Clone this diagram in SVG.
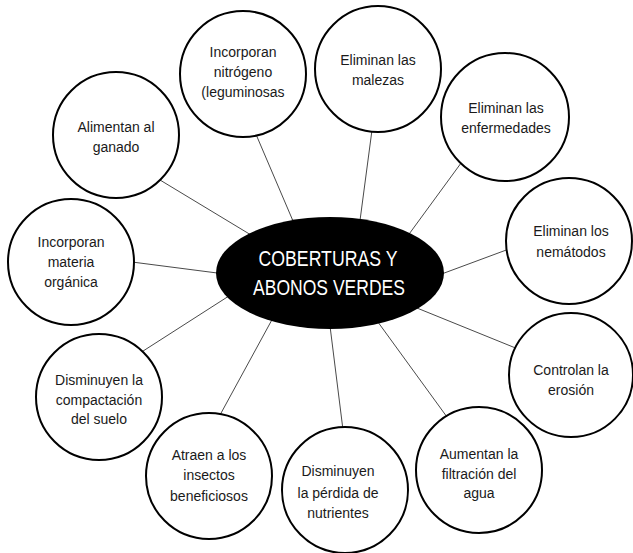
<svg xmlns="http://www.w3.org/2000/svg" width="633" height="553" viewBox="0 0 633 553">
<style>
.bg{fill:#ffffff}
.conn line{stroke:#4a4a4a;stroke-width:1}
.node circle{fill:#ffffff;stroke:#000000;stroke-width:2}
.node text{font-family:"Liberation Sans",Arial,sans-serif;font-size:14px;fill:#1a1a1a;text-anchor:middle}
.hub ellipse{fill:#000000}
.hub text{font-family:"Liberation Sans",Arial,sans-serif;font-size:22px;fill:#ffffff;text-anchor:middle}
</style>
<rect class="bg" x="0" y="0" width="633" height="553"/>
<g id="connectors" class="conn">
<line x1="255" y1="132" x2="296" y2="228"/>
<line x1="160" y1="180" x2="256" y2="238"/>
<line x1="132" y1="262" x2="225" y2="274"/>
<line x1="372" y1="130" x2="359" y2="228"/>
<line x1="464" y1="159" x2="404" y2="241"/>
<line x1="509" y1="249" x2="420" y2="282"/>
<line x1="518" y1="349" x2="412" y2="306"/>
<line x1="447" y1="417" x2="375" y2="318"/>
<line x1="343" y1="430" x2="329" y2="318"/>
<line x1="220" y1="415" x2="274" y2="316"/>
<line x1="140" y1="353" x2="232" y2="294"/>
</g>
<g id="node-nitrogeno" class="node">
<circle cx="243" cy="74" r="63"/>
<text x="243" y="57">Incorporan</text>
<text x="243" y="77">nitrógeno</text>
<text x="243" y="97">(leguminosas</text>
</g>
<g id="node-ganado" class="node">
<circle cx="116" cy="135" r="63"/>
<text x="116" y="132">Alimentan al</text>
<text x="116" y="152">ganado</text>
</g>
<g id="node-materia" class="node">
<circle cx="71" cy="262" r="63"/>
<text x="71" y="247">Incorporan</text>
<text x="71" y="267">materia</text>
<text x="71" y="287">orgánica</text>
</g>
<g id="node-malezas" class="node">
<circle cx="378" cy="69" r="63"/>
<text x="378" y="65">Eliminan las</text>
<text x="378" y="85">malezas</text>
</g>
<g id="node-enfermedades" class="node">
<circle cx="505" cy="117" r="64"/>
<text x="506" y="113">Eliminan las</text>
<text x="506" y="133">enfermedades</text>
</g>
<g id="node-nematodos" class="node">
<circle cx="569" cy="241" r="63"/>
<text x="571" y="236">Eliminan los</text>
<text x="571" y="257">nemátodos</text>
</g>
<g id="node-erosion" class="node">
<circle cx="571" cy="375" r="62"/>
<text x="571" y="375">Controlan la</text>
<text x="571" y="395">erosión</text>
</g>
<g id="node-filtracion" class="node">
<circle cx="479" cy="470" r="63"/>
<text x="479" y="459">Aumentan la</text>
<text x="479" y="479">filtración del</text>
<text x="479" y="498">agua</text>
</g>
<g id="node-perdida" class="node">
<circle cx="345" cy="490" r="63"/>
<text x="338" y="476">Disminuyen</text>
<text x="338" y="498">la pérdida de</text>
<text x="338" y="518">nutrientes</text>
</g>
<g id="node-insectos" class="node">
<circle cx="209" cy="476" r="63"/>
<text x="209" y="460">Atraen a los</text>
<text x="209" y="480">insectos</text>
<text x="209" y="501">beneficiosos</text>
</g>
<g id="node-compactacion" class="node">
<circle cx="99" cy="397" r="63"/>
<text x="99" y="385">Disminuyen la</text>
<text x="99" y="405">compactación</text>
<text x="99" y="424">del suelo</text>
</g>
<g id="node-hub" class="hub">
<ellipse cx="330" cy="273" rx="114" ry="56"/>
<text x="328" y="266" textLength="139" lengthAdjust="spacingAndGlyphs">COBERTURAS Y</text>
<text x="329" y="295" textLength="152" lengthAdjust="spacingAndGlyphs">ABONOS VERDES</text>
</g>
</svg>
